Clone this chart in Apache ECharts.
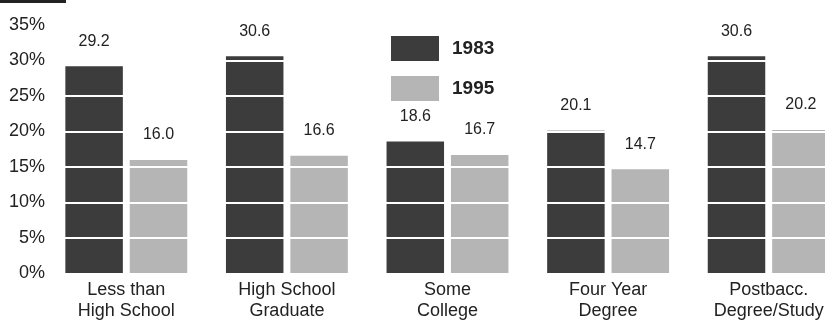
<!DOCTYPE html>
<html>
<head>
<meta charset="utf-8">
<script src="https://cdn.jsdelivr.net/npm/echarts@6/dist/echarts.min.js"></script>
<style>
  html, body { margin: 0; padding: 0; background: #fff; }
  #chart { width: 825px; height: 322px; }
</style>
</head>
<body>
<div id="chart"></div>
<script>
// Educational attainment shares, 1983 vs 1995
const categories = ['Less than\nHigh School', 'High School\nGraduate', 'Some\nCollege', 'Four Year\nDegree', 'Postbacc.\nDegree/Study'];
const values1983 = [29.2, 30.6, 18.6, 20.1, 30.6];
const values1995 = [16.0, 16.6, 16.7, 14.7, 20.2];
const seriesNames = ['1983', '1995'];
const yTicks = [0, 5, 10, 15, 20, 25, 30, 35];

const FONT = "'Liberation Sans', Arial, Helvetica, sans-serif";
const DARK = '#3c3c3c';
const LIGHT = '#b5b5b5';
const BAR_W = 57.5;
const BAR_GAP = '12%';

const chart = echarts.init(document.getElementById('chart'));

// Bars sit under the white grid lines; value labels are drawn by a
// transparent twin series on a hidden axis so they stay above the lines.
function barSeries(name, data, color) {
  return {
    name: name,
    type: 'bar',
    data: data,
    barWidth: BAR_W,
    barGap: BAR_GAP,
    z: 2,
    itemStyle: { color: color },
    label: { show: false }
  };
}

function labelSeries(name, data) {
  return {
    name: name + ' labels',
    type: 'bar',
    xAxisIndex: 1,
    data: data,
    barWidth: BAR_W,
    barGap: BAR_GAP,
    z: 10,
    silent: true,
    itemStyle: { color: 'rgba(0,0,0,0)' },
    label: {
      show: true,
      position: 'top',
      distance: 17,
      fontFamily: FONT,
      fontSize: 16,
      color: '#222',
      formatter: p => p.value.toFixed(1)
    }
  };
}

chart.setOption({
  animation: false,
  backgroundColor: '#fff',
  textStyle: { fontFamily: FONT },
  graphic: [{
    type: 'rect',
    z: 20,
    shape: { x: 0, y: 0, width: 66, height: 3 },
    style: { fill: '#222' }
  }],
  legend: {
    orient: 'vertical',
    left: 391,
    top: 36,
    padding: 0,
    z: 20,
    icon: 'rect',
    itemWidth: 48,
    itemHeight: 25,
    itemGap: 15,
    data: seriesNames,
    textStyle: { fontFamily: FONT, fontSize: 19, fontWeight: 'bold', color: '#222', padding: [0, 0, 0, 8] }
  },
  grid: { left: 46, top: 25, width: 803, bottom: 48.5, outerBoundsMode: 'none', containLabel: false },
  xAxis: [
    {
      type: 'category',
      data: categories,
      axisLine: { show: false },
      axisTick: { show: false },
      axisLabel: { fontFamily: FONT, fontSize: 18, color: '#222', lineHeight: 21, margin: 6 }
    },
    {
      type: 'category',
      data: categories,
      show: false
    }
  ],
  yAxis: {
    type: 'value',
    min: yTicks[0],
    max: yTicks[yTicks.length - 1],
    interval: 5,
    z: 5,
    axisLine: { show: false },
    axisTick: { show: false },
    axisLabel: { fontFamily: FONT, fontSize: 18, color: '#222', margin: 1, padding: [0, 0, 3, 0], formatter: v => v + '%' },
    splitLine: { show: true, lineStyle: { color: '#ffffff', width: 2 } }
  },
  series: [
    barSeries(seriesNames[0], values1983, DARK),
    barSeries(seriesNames[1], values1995, LIGHT),
    labelSeries(seriesNames[0], values1983),
    labelSeries(seriesNames[1], values1995)
  ]
});
</script>
</body>
</html>
